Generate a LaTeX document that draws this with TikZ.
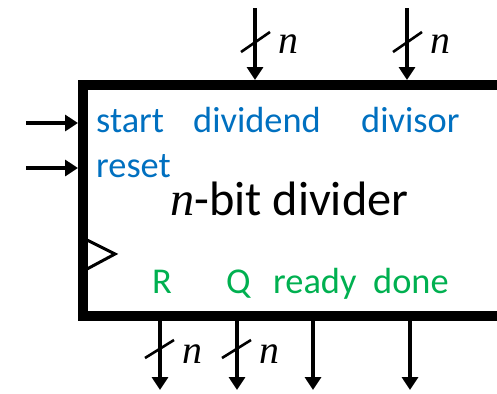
\documentclass[tikz,border=0pt]{standalone}
\usepackage{fontspec}
\setmainfont{Carlito}
\newfontfamily\nfont{Liberation Serif}
\newcommand{\varn}{{\nfont\itshape n}}
\usetikzlibrary{arrows.meta}
\definecolor{lblue}{HTML}{0070C0}
\definecolor{lgreen}{HTML}{00B050}
\begin{document}
\begin{tikzpicture}[x=1bp,y=-1bp,
  wire/.style={line width=4bp,-{Triangle[length=13bp,width=16bp]}},
  slash/.style={line width=2.6bp},
  lbl/.style={anchor=base west,inner sep=0pt,font=\fontsize{36.5}{40}\selectfont},
  inlbl/.style={lbl,text=lblue},
  outlbl/.style={lbl,text=lgreen},
  nlbl/.style={anchor=base west,inner sep=0pt,font=\fontsize{40}{44}\selectfont},
  titlelbl/.style={anchor=base west,inner sep=0pt,font=\fontsize{48.5}{52}\selectfont}]
\useasboundingbox (0,0) rectangle (497,393);
\clip (0,0) rectangle (497,393);
% block
\node[draw,line width=10bp,inner sep=0pt,outer sep=0pt,anchor=north west,
      minimum width=427bp,minimum height=230.5bp] (box) at (83,85) {};
% clock triangle
\draw[line width=3bp,line join=miter] (87,240) -- (115,254) -- (87,269);
% inputs on top
\coordinate (dvdS) at (255,8);   \coordinate (dvdE) at (255,80);
\coordinate (dvsS) at (407,8);   \coordinate (dvsE) at (407,80);
\draw[wire] (dvdS) -- (dvdE);
\draw[wire] (dvsS) -- (dvsE);
\draw[slash] (241,52) -- (270,32);
\draw[slash] (393,52) -- (422,32);
\node[nlbl] (n1) at (278,53) {\varn};
\node[nlbl] (n2) at (430,53) {\varn};
% left inputs
\coordinate (stS) at (26,123);  \coordinate (stE) at (78,123);
\coordinate (rsS) at (26,168);  \coordinate (rsE) at (78,168);
\draw[wire] (stS) -- (stE);
\draw[wire] (rsS) -- (rsE);
% outputs at bottom
\coordinate (rS) at (160,321); \coordinate (rE) at (160,390);
\coordinate (qS) at (237,321); \coordinate (qE) at (237,390);
\coordinate (yS) at (313,321); \coordinate (yE) at (313,390);
\coordinate (dS) at (410,321); \coordinate (dE) at (410,390);
\draw[wire] (rS) -- (rE);
\draw[wire] (qS) -- (qE);
\draw[wire] (yS) -- (yE);
\draw[wire] (dS) -- (dE);
\draw[slash] (145,358) -- (174,340);
\draw[slash] (222,358) -- (251,340);
\node[nlbl] (n3) at (182,363) {\varn};
\node[nlbl] (n4) at (259,363) {\varn};
% labels
\node[inlbl] (lstart) at (96,132) {start};
\node[inlbl] (ldvd) at (193,132) {dividend};
\node[inlbl] (ldvs) at (361,132) {divisor};
\node[inlbl] (lreset) at (96,177) {reset};
\node[titlelbl] (title) at (170,215) {\varn-bit divider};
\node[outlbl] (lR) at (152,293) {R};
\node[outlbl] (lQ) at (226,293) {Q};
\node[outlbl] (lready) at (273,293) {ready};
\node[outlbl] (ldone) at (373,293) {done};
\end{tikzpicture}
\end{document}
